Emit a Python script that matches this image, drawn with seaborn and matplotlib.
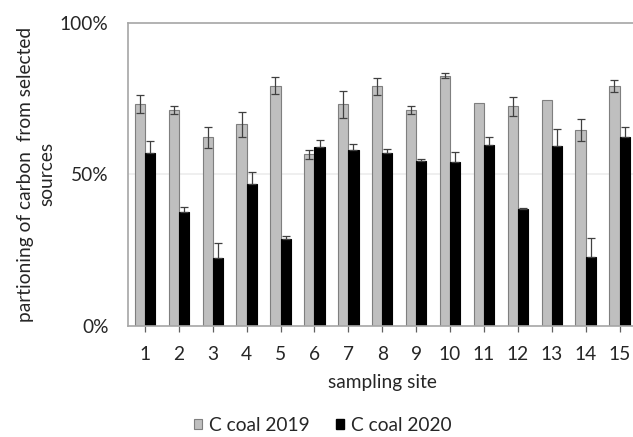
import matplotlib
matplotlib.use("Agg")
import matplotlib.pyplot as plt
from matplotlib.patches import Patch
from matplotlib.ticker import FuncFormatter
import pandas as pd
import seaborn as sns

# ── Data ─────────────────────────────────────────────────────────────────────
sites = [str(i) for i in range(1, 16)]
coal_2019 = [73.2, 71.1, 62.1, 66.4, 79.2, 56.6, 73.0, 79.0, 71.1, 82.5,
             73.5, 72.4, 74.5, 64.6, 79.0]
err_2019 = [3.0, 1.2, 3.5, 4.0, 2.7, 1.5, 4.5, 2.8, 1.2, 0.8,
            0.0, 3.1, 0.0, 3.7, 1.9]
coal_2020 = [57.1, 37.5, 22.4, 46.8, 28.5, 58.8, 57.8, 57.1, 54.2, 54.0,
             59.6, 38.4, 59.2, 22.7, 62.1]
err_2020 = [3.7, 1.7, 4.9, 3.8, 1.2, 2.6, 2.1, 1.2, 0.8, 3.2,
            2.5, 0.3, 5.6, 6.3, 3.3]
series = ["C coal 2019", "C coal 2020"]

df = pd.DataFrame({
    "site": sites * 2,
    "value": coal_2019 + coal_2020,
    "series": [series[0]] * 15 + [series[1]] * 15,
})

sns.set_theme(style="white")
plt.rcParams["font.family"] = ["Lato", "DejaVu Sans"]

GRAY = "#bfbfbf"
EDGE_GRAY = "#7f7f7f"
AXIS_GRAY = "#a6a6a6"
TXT = "#262626"
FS = 13.8

fig = plt.figure(figsize=(6.33, 4.37), dpi=100)
ax = fig.add_axes([0.2022, 0.2547, 0.8033, 0.6938])

sns.barplot(data=df, x="site", y="value", hue="series", order=sites,
            hue_order=series, palette=[GRAY, "black"], width=0.6,
            errorbar=None, legend=False, ax=ax, zorder=2)

# bar edges + error bars
n = len(sites)
for i, p in enumerate(ax.patches[:2 * n]):
    cx = p.get_x() + p.get_width() / 2
    h = p.get_height()
    if i < n:
        p.set_edgecolor(EDGE_GRAY)
        p.set_linewidth(0.8)
        e = err_2019[i]
        if e > 0:
            ax.errorbar(cx, h, yerr=e, fmt="none", ecolor="#404040",
                        elinewidth=0.9, capsize=2.6, capthick=0.9, zorder=3)
    else:
        p.set_edgecolor("black")
        p.set_linewidth(0.8)
        e = err_2020[i - n]
        ax.errorbar(cx, h, yerr=[[0], [e]], fmt="none", ecolor="#404040",
                    elinewidth=0.9, capsize=2.6, capthick=0.9, zorder=3)

ax.set_xlim(-0.5, n - 0.5)
ax.set_ylim(0, 100)
ax.set_yticks([0, 50, 100])
ax.yaxis.set_major_formatter(FuncFormatter(lambda v, _: f"{int(v)}%"))
ax.axhline(50, color="#ececec", lw=1.2, zorder=0)

for s in ["left", "top", "bottom"]:
    ax.spines[s].set_color(AXIS_GRAY)
    ax.spines[s].set_linewidth(1.2)
ax.spines["right"].set_visible(False)

ax.tick_params(axis="x", bottom=True, length=4, width=0.9, color="#606060",
               labelsize=FS, labelcolor=TXT, pad=10.5)
ax.tick_params(axis="y", left=False, length=0, labelsize=FS, labelcolor=TXT,
               pad=14)

ax.set_xlabel("sampling site", fontsize=FS, color=TXT, labelpad=8)
ax.set_ylabel("partioning of carbon  from selected\nsources", fontsize=FS,
              color=TXT, labelpad=3.5, linespacing=1.3)

handles = [Patch(facecolor=GRAY, edgecolor=EDGE_GRAY, linewidth=0.8),
           Patch(facecolor="black", edgecolor="black")]
fig.legend(handles, series, loc="center", bbox_to_anchor=(0.51, 0.027),
           ncol=2, frameon=False, fontsize=FS, handlelength=0.45,
           handleheight=0.45, handletextpad=0.35, columnspacing=1.35)

fig.savefig("out.png", dpi=100)
